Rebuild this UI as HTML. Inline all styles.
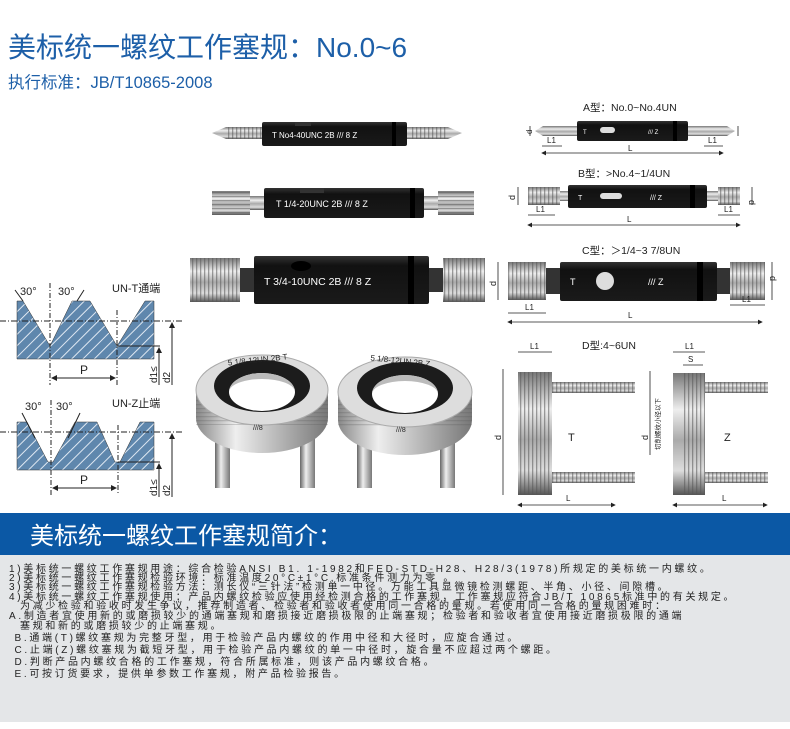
<!DOCTYPE html>
<html><head><meta charset="utf-8"><style>
body{margin:0;width:790px;height:729px;background:#fff;overflow:hidden;font-family:"Liberation Sans","Noto Sans CJK SC",sans-serif}
svg{position:absolute;left:0;top:0}
.t div{position:absolute;left:9px;white-space:nowrap;font-size:10px;line-height:10px;color:#222;letter-spacing:2.7px}
</style></head><body>
<svg width="790" height="729" viewBox="0 0 790 729" font-family="Liberation Sans, Noto Sans CJK SC, sans-serif">
<defs>
<linearGradient id="met" x1="0" y1="0" x2="0" y2="1"><stop offset="0" stop-color="#777"/><stop offset=".3" stop-color="#eee"/><stop offset=".55" stop-color="#aaa"/><stop offset=".8" stop-color="#ddd"/><stop offset="1" stop-color="#555"/></linearGradient>
<linearGradient id="blk" x1="0" y1="0" x2="0" y2="1"><stop offset="0" stop-color="#333"/><stop offset=".2" stop-color="#111"/><stop offset="1" stop-color="#1a1a1a"/></linearGradient>
<linearGradient id="metv" x1="0" y1="0" x2="1" y2="0"><stop offset="0" stop-color="#666"/><stop offset=".4" stop-color="#eee"/><stop offset="1" stop-color="#777"/></linearGradient>
<linearGradient id="ringside" x1="0" y1="0" x2="1" y2="0"><stop offset="0" stop-color="#888"/><stop offset=".3" stop-color="#eee"/><stop offset=".6" stop-color="#bbb"/><stop offset="1" stop-color="#777"/></linearGradient>
<pattern id="thr" width="4" height="10" patternUnits="userSpaceOnUse"><rect width="4" height="10" fill="none"/><rect width="1.3" height="10" fill="#555" opacity=".55"/></pattern>
<pattern id="thrh" width="10" height="4" patternUnits="userSpaceOnUse"><rect width="10" height="1.3" fill="#555" opacity=".5"/></pattern>
<pattern id="hatch" width="8" height="8" patternUnits="userSpaceOnUse" patternTransform="rotate(45)"><rect width="8" height="8" fill="#5f87ad"/><rect width="1" height="8" fill="#dfe8f2"/></pattern>
<marker id="ar" markerWidth="6" markerHeight="6" refX="5" refY="3" orient="auto"><path d="M0,0L6,3L0,6z" fill="#222"/></marker>
<marker id="al" markerWidth="6" markerHeight="6" refX="1" refY="3" orient="auto"><path d="M6,0L0,3L6,6z" fill="#222"/></marker>
</defs>

<text x="8" y="57" font-size="28" fill="#1d5fa8">美标统一螺纹工作塞规：No.0~6</text>
<text x="8" y="88" font-size="16.5" fill="#1d5fa8">执行标准：JB/T10865-2008</text>

<!-- gauge 1 -->
<path d="M212,133 L226,127 L262,127 L262,139 L226,139z" fill="url(#met)"/><rect x="226" y="127" width="36" height="12" fill="url(#thr)"/>
<path d="M462,133 L448,127 L405,127 L405,139 L448,139z" fill="url(#met)"/><rect x="410" y="127" width="38" height="12" fill="url(#thr)"/>
<rect x="262" y="122" width="145" height="24" rx="2" fill="url(#blk)"/>
<rect x="392" y="122" width="4" height="24" fill="#000"/>
<rect x="295" y="122" width="16" height="4" fill="#333"/>
<text x="272" y="138" font-size="8" fill="#fff">T   No4-40UNC  2B  ///  8   Z</text>

<!-- gauge 2 -->
<rect x="212" y="191" width="38" height="24" fill="url(#met)"/><rect x="212" y="191" width="38" height="24" fill="url(#thrh)"/>
<rect x="250" y="196" width="14" height="14" fill="url(#met)"/>
<rect x="264" y="188" width="160" height="30" rx="2" fill="url(#blk)"/>
<rect x="410" y="188" width="5" height="30" fill="#000"/>
<rect x="300" y="188" width="24" height="5" fill="#333"/>
<rect x="424" y="196" width="14" height="14" fill="url(#met)"/>
<rect x="438" y="191" width="36" height="24" fill="url(#met)"/><rect x="438" y="191" width="36" height="24" fill="url(#thrh)"/>
<text x="276" y="207" font-size="9" fill="#fff">T    1/4-20UNC  2B  ///  8   Z</text>

<!-- gauge 3 -->
<rect x="190" y="258" width="50" height="44" fill="url(#met)"/><rect x="190" y="258" width="50" height="44" fill="url(#thr)"/>
<rect x="240" y="268" width="15" height="24" fill="#333"/>
<rect x="254" y="256" width="175" height="48" rx="2" fill="url(#blk)"/>
<rect x="408" y="256" width="6" height="48" fill="#000"/>
<ellipse cx="301" cy="266" rx="10" ry="5" fill="#000"/>
<rect x="429" y="268" width="14" height="24" fill="#333"/>
<rect x="443" y="258" width="42" height="44" fill="url(#met)"/><rect x="443" y="258" width="42" height="44" fill="url(#thr)"/>
<text x="264" y="285" font-size="10.5" fill="#fff">T  3/4-10UNC  2B  ///  8    Z</text>

<!-- thread profile T -->
<polygon points="17,301 23,301 50,346 72,301 90,301 117,346 145,301 154,301 154,359 17,359" fill="url(#hatch)" stroke="#333" stroke-width=".5"/>
<line x1="117" y1="346" x2="160" y2="346" stroke="#222"/>
<line x1="0" y1="321" x2="182" y2="321" stroke="#222" stroke-dasharray="6,2,1,2"/>
<line x1="50" y1="283" x2="50" y2="385" stroke="#222" stroke-dasharray="5,2,1,2"/>
<line x1="117" y1="310" x2="117" y2="385" stroke="#222" stroke-dasharray="5,2,1,2"/>
<line x1="23" y1="301" x2="15" y2="290" stroke="#222"/><line x1="77" y1="301" x2="84" y2="290" stroke="#222"/>
<text x="20" y="295" font-size="11" fill="#222">30°</text><text x="58" y="295" font-size="11" fill="#222">30°</text>
<text x="112" y="292" font-size="11" fill="#222">UN-T通端</text>
<line x1="52" y1="378" x2="115" y2="378" stroke="#222" marker-start="url(#al)" marker-end="url(#ar)"/>
<text x="80" y="374" font-size="12" fill="#222">P</text>
<line x1="159" y1="348" x2="159" y2="385" stroke="#222" marker-start="url(#al)"/>
<line x1="172" y1="323" x2="172" y2="385" stroke="#222" marker-start="url(#al)"/>
<text transform="translate(157,383) rotate(-90)" font-size="10" fill="#222">d1≤</text>
<text transform="translate(170,383) rotate(-90)" font-size="10" fill="#222">d2</text>

<!-- thread profile Z -->
<polygon points="17,422 27,422 48,462 53,462 75,422 97,422 115,462 120,462 140,422 154,422 154,470 17,470" fill="url(#hatch)" stroke="#333" stroke-width=".5"/>
<line x1="118" y1="462" x2="160" y2="462" stroke="#222"/>
<line x1="0" y1="432" x2="182" y2="432" stroke="#222" stroke-dasharray="6,2,1,2"/>
<line x1="51" y1="400" x2="51" y2="495" stroke="#222" stroke-dasharray="5,2,1,2"/>
<line x1="118" y1="425" x2="118" y2="495" stroke="#222" stroke-dasharray="5,2,1,2"/>
<text x="25" y="410" font-size="11" fill="#222">30°</text><text x="56" y="410" font-size="11" fill="#222">30°</text>
<line x1="35" y1="438" x2="22" y2="413" stroke="#222"/><line x1="68" y1="438" x2="80" y2="413" stroke="#222"/>
<text x="112" y="407" font-size="11" fill="#222">UN-Z止端</text>
<line x1="53" y1="488" x2="116" y2="488" stroke="#222" marker-start="url(#al)" marker-end="url(#ar)"/>
<text x="80" y="484" font-size="12" fill="#222">P</text>
<line x1="159" y1="464" x2="159" y2="497" stroke="#222" marker-start="url(#al)"/>
<line x1="172" y1="434" x2="172" y2="497" stroke="#222" marker-start="url(#al)"/>
<text transform="translate(157,496) rotate(-90)" font-size="10" fill="#222">d1≤</text>
<text transform="translate(170,496) rotate(-90)" font-size="10" fill="#222">d2</text>

<!-- rings -->
<g>
<rect x="215" y="430" width="15" height="58" fill="url(#metv)"/><rect x="300" y="430" width="15" height="58" fill="url(#metv)"/>
<path d="M196,390 L196,418 A66,35 0 0 0 328,418 L328,390z" fill="url(#ringside)"/>
<rect x="196" y="395" width="132" height="30" fill="url(#thrh)" opacity=".5"/>
<ellipse cx="262" cy="390" rx="66" ry="35" fill="#ddd" stroke="#aaa"/>
<ellipse cx="262" cy="386" rx="48" ry="26" fill="#1c1c1c"/>
<ellipse cx="262" cy="392" rx="33" ry="19" fill="#fff"/>
<path d="M229,392 A33,19 0 0 1 295,392 A33,13 0 0 0 229,392z" fill="#bbb"/>
<text x="228" y="362" font-size="8" fill="#222" transform="rotate(-6 262 362)">5 1/8-12UN  2B  T</text>
<text x="253" y="430" font-size="7" fill="#222">///8</text>
</g>
<g>
<rect x="357" y="430" width="15" height="58" fill="url(#metv)"/><rect x="440" y="430" width="15" height="58" fill="url(#metv)"/>
<path d="M338,392 L338,420 A67,35 0 0 0 472,420 L472,392z" fill="url(#ringside)"/>
<rect x="338" y="397" width="134" height="30" fill="url(#thrh)" opacity=".5"/>
<ellipse cx="405" cy="392" rx="67" ry="35" fill="#ddd" stroke="#aaa"/>
<ellipse cx="405" cy="388" rx="48" ry="26" fill="#1c1c1c"/>
<ellipse cx="405" cy="394" rx="33" ry="19" fill="#fff"/>
<path d="M372,394 A33,19 0 0 1 438,394 A33,13 0 0 0 372,394z" fill="#bbb"/>
<text x="370" y="364" font-size="8" fill="#222" transform="rotate(6 405 364)">5 1/8-12UN  2B  Z</text>
<text x="396" y="432" font-size="7" fill="#222">///8</text>
</g>

<!-- right diagrams -->
<g font-size="10" fill="#222" stroke-width=".8">
<text x="583" y="111" font-size="10.5">A型：No.0~No.4UN</text>
<path d="M535,131 L543,126 L577,126 L577,136 L543,136z" fill="url(#met)"/>
<path d="M735,131 L727,126 L688,126 L688,136 L727,136z" fill="url(#met)"/>
<rect x="577" y="121" width="111" height="20" rx="2" fill="url(#blk)"/>
<rect x="673" y="121" width="4" height="20" fill="#000"/>
<rect x="600" y="127" width="15" height="6" rx="3" fill="#ddd"/>
<text x="583" y="134" font-size="6" fill="#fff">T</text><text x="648" y="134" font-size="6" fill="#fff">///   Z</text>
<line x1="530" y1="126" x2="530" y2="136" stroke="#222"/><text transform="translate(532,134) rotate(-90)" font-size="8">d</text>
<line x1="738" y1="126" x2="738" y2="136" stroke="#222"/>
<line x1="542" y1="146" x2="562" y2="146" stroke="#222"/><text x="547" y="143" font-size="8">L1</text>
<line x1="704" y1="146" x2="723" y2="146" stroke="#222"/><text x="708" y="143" font-size="8">L1</text>
<line x1="542" y1="153" x2="723" y2="153" stroke="#222" marker-start="url(#al)" marker-end="url(#ar)"/>
<text x="628" y="151" font-size="8">L</text>

<text x="578" y="177" font-size="10.5">B型：&gt;No.4~1/4UN</text>
<rect x="528" y="187" width="32" height="18" fill="url(#met)"/><rect x="528" y="187" width="32" height="18" fill="url(#thr)"/>
<rect x="560" y="191" width="8" height="10" fill="url(#met)"/>
<rect x="568" y="185" width="139" height="23" rx="2" fill="url(#blk)"/>
<rect x="690" y="185" width="5" height="23" fill="#000"/>
<rect x="600" y="193" width="22" height="6" rx="3" fill="#ddd"/>
<text x="578" y="200" font-size="7" fill="#fff">T</text><text x="650" y="200" font-size="7" fill="#fff">///     Z</text>
<rect x="707" y="191" width="11" height="10" fill="url(#met)"/>
<rect x="718" y="187" width="22" height="18" fill="url(#met)"/><rect x="718" y="187" width="22" height="18" fill="url(#thr)"/>
<line x1="518" y1="187" x2="518" y2="205" stroke="#222"/><text transform="translate(515,200) rotate(-90)" font-size="9">d</text>
<line x1="752" y1="187" x2="752" y2="205" stroke="#222"/><text transform="translate(749,200) rotate(90)" font-size="9">d</text>
<line x1="528" y1="215" x2="555" y2="215" stroke="#222"/><text x="536" y="212" font-size="8">L1</text>
<line x1="718" y1="215" x2="740" y2="215" stroke="#222"/><text x="724" y="212" font-size="8">L1</text>
<line x1="528" y1="225" x2="740" y2="225" stroke="#222" marker-start="url(#al)" marker-end="url(#ar)"/>
<text x="627" y="222" font-size="8">L</text>

<text x="582" y="254" font-size="10.5">C型：＞1/4~3 7/8UN</text>
<rect x="508" y="262" width="38" height="38" fill="url(#met)"/><rect x="508" y="262" width="38" height="38" fill="url(#thr)"/>
<rect x="546" y="268" width="14" height="26" fill="#333"/>
<rect x="560" y="262" width="157" height="39" rx="2" fill="url(#blk)"/>
<rect x="697" y="262" width="6" height="39" fill="#000"/>
<circle cx="605" cy="281" r="9" fill="#ddd"/>
<text x="570" y="285" font-size="9" fill="#fff">T</text><text x="648" y="285" font-size="9" fill="#fff">///      Z</text>
<rect x="717" y="268" width="13" height="26" fill="#333"/>
<rect x="730" y="262" width="35" height="38" fill="url(#met)"/><rect x="730" y="262" width="35" height="38" fill="url(#thr)"/>
<line x1="498" y1="262" x2="498" y2="300" stroke="#222"/><text transform="translate(496,286) rotate(-90)" font-size="9">d</text>
<line x1="772" y1="262" x2="772" y2="300" stroke="#222"/><text transform="translate(770,276) rotate(90)" font-size="9">d</text>
<line x1="508" y1="313" x2="546" y2="313" stroke="#222"/><text x="525" y="310" font-size="8">L1</text>
<line x1="730" y1="305" x2="765" y2="305" stroke="#222"/><text x="742" y="302" font-size="8">L1</text>
<line x1="508" y1="322" x2="762" y2="322" stroke="#222" marker-start="url(#al)" marker-end="url(#ar)"/>
<text x="628" y="318" font-size="8">L</text>

<text x="582" y="349" font-size="10.5">D型:4~6UN</text>
<rect x="552" y="382" width="83" height="11" fill="url(#met)"/><rect x="552" y="382" width="83" height="11" fill="url(#thr)"/>
<rect x="552" y="472" width="83" height="11" fill="url(#met)"/><rect x="552" y="472" width="83" height="11" fill="url(#thr)"/>
<rect x="518" y="372" width="34" height="123" fill="url(#met)"/><rect x="518" y="372" width="34" height="123" fill="url(#thr)"/>
<text x="568" y="441" font-size="11">T</text>
<line x1="518" y1="352" x2="552" y2="352" stroke="#222"/><text x="530" y="349" font-size="8">L1</text>
<line x1="503" y1="369" x2="503" y2="495" stroke="#222"/><text transform="translate(501,440) rotate(-90)" font-size="9">d</text>
<line x1="518" y1="505" x2="615" y2="505" stroke="#222" marker-start="url(#al)" marker-end="url(#ar)"/><text x="566" y="501" font-size="8">L</text>

<rect x="705" y="382" width="63" height="11" fill="url(#met)"/><rect x="705" y="382" width="63" height="11" fill="url(#thr)"/>
<rect x="705" y="472" width="63" height="11" fill="url(#met)"/><rect x="705" y="472" width="63" height="11" fill="url(#thr)"/>
<rect x="673" y="373" width="32" height="122" fill="url(#met)"/><rect x="684" y="373" width="21" height="122" fill="url(#thr)"/>
<text x="724" y="441" font-size="11">Z</text>
<line x1="673" y1="352" x2="705" y2="352" stroke="#222"/><text x="685" y="349" font-size="8">L1</text>
<line x1="683" y1="365" x2="703" y2="365" stroke="#222"/><text x="688" y="362" font-size="8">S</text>
<line x1="650" y1="371" x2="650" y2="455" stroke="#222"/><text transform="translate(648,440) rotate(-90)" font-size="9">d</text>
<text transform="translate(660,450) rotate(-90)" font-size="6.5">切削螺纹小径以下</text>
<line x1="673" y1="505" x2="767" y2="505" stroke="#222" marker-start="url(#al)" marker-end="url(#ar)"/><text x="722" y="501" font-size="8">L</text>
</g>

<rect x="0" y="513" width="790" height="42" fill="#0b58a5"/>
<text x="30" y="544" font-size="24" fill="#fff">美标统一螺纹工作塞规简介：</text>
<rect x="0" y="555" width="790" height="167" fill="#e4e6e8"/>
</svg>
<div class="t">
<div style="top:565px">1)美标统一螺纹工作塞规用途：综合检验ANSI B1. 1-1982和FED-STD-H28、H28/3(1978)所规定的美标统一内螺纹。</div>
<div style="top:574px">2)美标统一螺纹工作塞规检验环境：标准温度20°C±1°C,标准条件测力为零 。</div>
<div style="top:583px">3)美标统一螺纹工作塞规检验方法：测长仪“三针法”检测单一中径。万能工具显微镜检测螺距、半角、小径、间隙槽。</div>
<div style="top:593px">4)美标统一螺纹工作塞规使用：产品内螺纹检验应使用经检测合格的工作塞规，工作塞规应符合JB/T 10865标准中的有关规定。</div>
<div style="top:602px">&nbsp;&nbsp;为减少检验和验收时发生争议，推荐制造者、检验者和验收者使用同一合格的量规。若使用同一合格的量规困难时：</div>
<div style="top:612px">A.制造者宜使用新的或磨损较少的通端塞规和磨损接近磨损极限的止端塞规；检验者和验收者宜使用接近磨损极限的通端</div>
<div style="top:622px">&nbsp;&nbsp;塞规和新的或磨损较少的止端塞规。</div>
<div style="top:634px">&nbsp;B.通端(T)螺纹塞规为完整牙型，用于检验产品内螺纹的作用中径和大径时，应旋合通过。</div>
<div style="top:646px">&nbsp;C.止端(Z)螺纹塞规为截短牙型，用于检验产品内螺纹的单一中径时，旋合量不应超过两个螺距。</div>
<div style="top:658px">&nbsp;D.判断产品内螺纹合格的工作塞规，符合所属标准，则该产品内螺纹合格。</div>
<div style="top:670px">&nbsp;E.可按订货要求，提供单参数工作塞规，附产品检验报告。</div>
</div>
</body></html>
